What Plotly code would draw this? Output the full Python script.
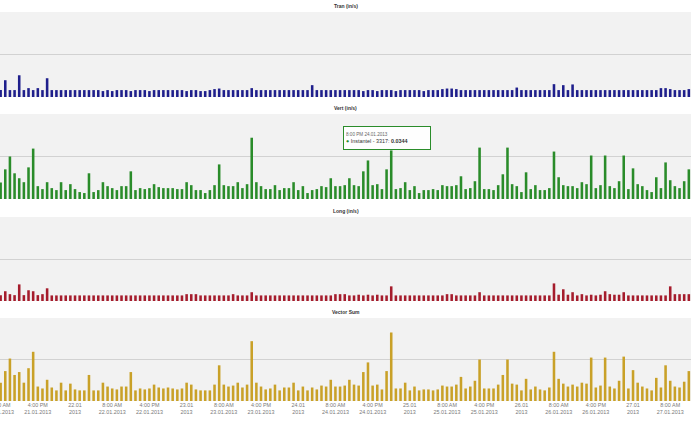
import plotly.graph_objects as go
import pandas as pd

start = "2013-01-21 08:00"

tran = [
    0.0049, 0.0119, 0.0049, 0.0049, 0.0154, 0.0049, 0.0063, 0.0049, 0.0063, 0.0049,
    0.0133, 0.0049, 0.0049, 0.0049, 0.0049, 0.0049, 0.0049, 0.0049, 0.0049, 0.0049,
    0.0049, 0.0049, 0.0042, 0.0049, 0.0042, 0.0049, 0.0049, 0.0049, 0.0042, 0.0049,
    0.0049, 0.0049, 0.0042, 0.0049, 0.0049, 0.0049, 0.0049, 0.0049, 0.0049, 0.0049,
    0.0042, 0.0049, 0.0049, 0.0042, 0.0042, 0.0049, 0.0056, 0.0060, 0.0049, 0.0049,
    0.0049, 0.0049, 0.0049, 0.0049, 0.0063, 0.0049, 0.0049, 0.0049, 0.0049, 0.0049,
    0.0049, 0.0049, 0.0049, 0.0049, 0.0049, 0.0049, 0.0049, 0.0084, 0.0049, 0.0049,
    0.0049, 0.0049, 0.0049, 0.0049, 0.0049, 0.0049, 0.0049, 0.0049, 0.0042, 0.0049,
    0.0049, 0.0042, 0.0049, 0.0049, 0.0049, 0.0042, 0.0049, 0.0049, 0.0049, 0.0049,
    0.0049, 0.0042, 0.0049, 0.0049, 0.0049, 0.0056, 0.0060, 0.0060, 0.0056, 0.0049,
    0.0049, 0.0049, 0.0049, 0.0049, 0.0049, 0.0049, 0.0049, 0.0049, 0.0049, 0.0049,
    0.0049, 0.0067, 0.0049, 0.0049, 0.0049, 0.0049, 0.0049, 0.0049, 0.0049, 0.0091,
    0.0049, 0.0084, 0.0049, 0.0089, 0.0049, 0.0049, 0.0049, 0.0049, 0.0049, 0.0049,
    0.0049, 0.0049, 0.0049, 0.0049, 0.0049, 0.0049, 0.0049, 0.0049, 0.0049, 0.0049,
    0.0049, 0.0049, 0.0063, 0.0063, 0.0056, 0.0049, 0.0049, 0.0049, 0.0056,
]

vert = [
    0.0117, 0.0210, 0.0301, 0.0182, 0.0147, 0.0119, 0.0224, 0.0357, 0.0091, 0.0070,
    0.0119, 0.0077, 0.0063, 0.0119, 0.0063, 0.0105, 0.0070, 0.0049, 0.0042, 0.0182,
    0.0049, 0.0063, 0.0119, 0.0091, 0.0077, 0.0063, 0.0091, 0.0091, 0.0196, 0.0063,
    0.0077, 0.0070, 0.0077, 0.0105, 0.0084, 0.0077, 0.0077, 0.0077, 0.0070, 0.0070,
    0.0119, 0.0098, 0.0063, 0.0063, 0.0042, 0.0063, 0.0098, 0.0245, 0.0098, 0.0091,
    0.0091, 0.0119, 0.0077, 0.0105, 0.0434, 0.0119, 0.0091, 0.0070, 0.0070, 0.0098,
    0.0063, 0.0077, 0.0077, 0.0119, 0.0063, 0.0091, 0.0042, 0.0063, 0.0070, 0.0091,
    0.0084, 0.0147, 0.0091, 0.0091, 0.0098, 0.0147, 0.0098, 0.0091, 0.0196, 0.0273,
    0.0098, 0.0105, 0.0070, 0.0210, 0.0344, 0.0070, 0.0077, 0.0119, 0.0063, 0.0091,
    0.0042, 0.0063, 0.0063, 0.0070, 0.0063, 0.0098, 0.0091, 0.0091, 0.0098, 0.0161,
    0.0070, 0.0077, 0.0126, 0.0364, 0.0070, 0.0070, 0.0063, 0.0098, 0.0175, 0.0364,
    0.0105, 0.0091, 0.0049, 0.0189, 0.0070, 0.0098, 0.0063, 0.0063, 0.0077, 0.0336,
    0.0154, 0.0098, 0.0091, 0.0091, 0.0077, 0.0119, 0.0105, 0.0308, 0.0077, 0.0098,
    0.0308, 0.0091, 0.0077, 0.0126, 0.0308, 0.0070, 0.0217, 0.0105, 0.0091, 0.0063,
    0.0049, 0.0154, 0.0077, 0.0259, 0.0133, 0.0091, 0.0077, 0.0126, 0.0210,
]

long_ = [
    0.0042, 0.0070, 0.0049, 0.0042, 0.0119, 0.0042, 0.0077, 0.0070, 0.0042, 0.0049,
    0.0091, 0.0040, 0.0040, 0.0040, 0.0040, 0.0040, 0.0040, 0.0040, 0.0040, 0.0040,
    0.0040, 0.0040, 0.0040, 0.0040, 0.0040, 0.0040, 0.0040, 0.0040, 0.0040, 0.0040,
    0.0040, 0.0040, 0.0040, 0.0040, 0.0040, 0.0040, 0.0040, 0.0040, 0.0040, 0.0040,
    0.0049, 0.0049, 0.0049, 0.0040, 0.0040, 0.0040, 0.0040, 0.0040, 0.0040, 0.0040,
    0.0049, 0.0040, 0.0040, 0.0040, 0.0063, 0.0040, 0.0040, 0.0040, 0.0040, 0.0040,
    0.0040, 0.0040, 0.0040, 0.0040, 0.0040, 0.0040, 0.0040, 0.0040, 0.0040, 0.0040,
    0.0040, 0.0040, 0.0049, 0.0049, 0.0049, 0.0040, 0.0040, 0.0045, 0.0040, 0.0045,
    0.0040, 0.0045, 0.0040, 0.0040, 0.0105, 0.0040, 0.0040, 0.0040, 0.0040, 0.0040,
    0.0040, 0.0040, 0.0040, 0.0040, 0.0040, 0.0040, 0.0049, 0.0049, 0.0040, 0.0040,
    0.0040, 0.0040, 0.0040, 0.0063, 0.0040, 0.0040, 0.0040, 0.0040, 0.0040, 0.0040,
    0.0040, 0.0040, 0.0040, 0.0040, 0.0040, 0.0040, 0.0040, 0.0040, 0.0040, 0.0126,
    0.0045, 0.0084, 0.0045, 0.0063, 0.0040, 0.0049, 0.0040, 0.0045, 0.0040, 0.0045,
    0.0070, 0.0049, 0.0045, 0.0045, 0.0063, 0.0040, 0.0040, 0.0040, 0.0040, 0.0040,
    0.0040, 0.0040, 0.0040, 0.0040, 0.0105, 0.0049, 0.0049, 0.0049, 0.0049,
]

vsum = [
    0.0133, 0.0217, 0.0308, 0.0189, 0.0210, 0.0133, 0.0238, 0.0357, 0.0105, 0.0091,
    0.0154, 0.0098, 0.0077, 0.0133, 0.0077, 0.0126, 0.0084, 0.0077, 0.0077, 0.0189,
    0.0077, 0.0077, 0.0133, 0.0105, 0.0091, 0.0084, 0.0105, 0.0105, 0.0210, 0.0077,
    0.0091, 0.0084, 0.0091, 0.0119, 0.0098, 0.0091, 0.0098, 0.0091, 0.0084, 0.0091,
    0.0133, 0.0119, 0.0084, 0.0077, 0.0077, 0.0077, 0.0119, 0.0259, 0.0119, 0.0105,
    0.0112, 0.0133, 0.0098, 0.0119, 0.0434, 0.0133, 0.0105, 0.0084, 0.0091, 0.0119,
    0.0077, 0.0098, 0.0098, 0.0133, 0.0077, 0.0105, 0.0077, 0.0098, 0.0084, 0.0112,
    0.0105, 0.0154, 0.0105, 0.0105, 0.0112, 0.0154, 0.0119, 0.0112, 0.0210, 0.0280,
    0.0112, 0.0119, 0.0084, 0.0217, 0.0497, 0.0091, 0.0091, 0.0133, 0.0077, 0.0105,
    0.0077, 0.0084, 0.0084, 0.0077, 0.0084, 0.0112, 0.0105, 0.0105, 0.0119, 0.0175,
    0.0091, 0.0105, 0.0147, 0.0301, 0.0091, 0.0091, 0.0091, 0.0119, 0.0189, 0.0301,
    0.0126, 0.0119, 0.0077, 0.0161, 0.0084, 0.0105, 0.0084, 0.0077, 0.0098, 0.0357,
    0.0161, 0.0126, 0.0105, 0.0119, 0.0105, 0.0133, 0.0126, 0.0315, 0.0098, 0.0112,
    0.0315, 0.0105, 0.0091, 0.0147, 0.0322, 0.0091, 0.0224, 0.0133, 0.0105, 0.0091,
    0.0077, 0.0168, 0.0098, 0.0259, 0.0147, 0.0105, 0.0098, 0.0140, 0.0217,
]

tick_vals = [
    "2013-01-21 08:00", "2013-01-21 16:00", "2013-01-22 00:00",
    "2013-01-22 08:00", "2013-01-22 16:00", "2013-01-23 00:00",
    "2013-01-23 08:00", "2013-01-23 16:00", "2013-01-24 00:00",
    "2013-01-24 08:00", "2013-01-24 16:00", "2013-01-25 00:00",
    "2013-01-25 08:00", "2013-01-25 16:00", "2013-01-26 00:00",
    "2013-01-26 08:00", "2013-01-26 16:00", "2013-01-27 00:00",
    "2013-01-27 08:00",
]
tick_text = [
    "8:00 AM<br>21.01.2013", "4:00 PM<br>21.01.2013", "22.01<br>2013",
    "8:00 AM<br>22.01.2013", "4:00 PM<br>22.01.2013", "23.01<br>2013",
    "8:00 AM<br>23.01.2013", "4:00 PM<br>23.01.2013", "24.01<br>2013",
    "8:00 AM<br>24.01.2013", "4:00 PM<br>24.01.2013", "25.01<br>2013",
    "8:00 AM<br>25.01.2013", "4:00 PM<br>25.01.2013", "26.01<br>2013",
    "8:00 AM<br>26.01.2013", "4:00 PM<br>26.01.2013", "27.01<br>2013",
    "8:00 AM<br>27.01.2013",
]

titles = ["Tran (in/s)", "Vert (in/s)", "Long (in/s)", "Vector Sum"]
series = [tran, vert, long_, vsum]
colors = ["#1f1f8c", "#2a8c2a", "#a51c2c", "#c9a128"]
domains = [[0.7712, 0.9717], [0.5307, 0.7311], [0.2901, 0.4882], [0.0542, 0.2500]]

tooltip_time = "2013-01-24 20:00"
tooltip_value = 0.0344

x_range = ["2013-01-21 07:52", "2013-01-27 12:28"]
font_family = "Liberation Sans, Arial, sans-serif"

fig = go.Figure()
layout = dict(
    template="none",
    width=691, height=424,
    margin=dict(l=0, r=0, t=0, b=0),
    paper_bgcolor="white",
    plot_bgcolor="#f2f2f2",
    bargap=0.45,
    showlegend=False,
    font=dict(family=font_family, color="#333333"),
)

annotations = []
for i, (vals, col, dom, title) in enumerate(zip(series, colors, domains, titles)):
    n = "" if i == 0 else str(i + 1)
    x = pd.date_range(start, periods=len(vals), freq="h")
    fig.add_trace(go.Bar(
        x=x, y=vals, marker=dict(color=col, line=dict(width=0)),
        xaxis="x" + n, yaxis="y" + n, name=title,
    ))
    last = i == 3
    layout["xaxis" + n] = dict(
        domain=[0, 1], anchor="y" + n, type="date", range=x_range,
        showgrid=False, zeroline=False, showline=False, ticks="",
        automargin=False,
        showticklabels=last, ticklabeloverflow="allow",
        tickmode="array", tickvals=tick_vals, ticktext=tick_text,
        tickfont=dict(size=5.4, color="#7a7a7a", family=font_family),
    )
    layout["yaxis" + n] = dict(
        domain=dom, anchor="x" + n, range=[0, 0.0602],
        tickmode="array", tickvals=[0.03, 0.06],
        showticklabels=False, showgrid=True, gridcolor="#d2d2d2",
        gridwidth=1, zeroline=False, showline=False, ticks="",
        automargin=False,
    )
    annotations.append(dict(
        text="<b>" + title + "</b>", x=0.5, xref="paper",
        y=dom[1], yref="paper", yanchor="middle", yshift=6,
        showarrow=False, font=dict(size=5, color="#333333", family=font_family),
    ))

annotations.append(dict(
    x=tooltip_time, xref="x2", y=tooltip_value, yref="y2",
    xanchor="center", yanchor="bottom", xshift=-4, yshift=0,
    showarrow=False, align="left",
    width=82, height=18, borderpad=2,
    bgcolor="rgba(255,255,255,0.92)", bordercolor="#2a8c2a", borderwidth=1,
    text=("<span style='font-size:4.6px;color:#666'>8:00 PM 24.01.2013</span><br>"
          "<span style='color:#2a8c2a'>●</span> Instantel - 3317: <b>0.0344</b>"),
    font=dict(size=5.4, color="#333333", family=font_family),
))
layout["annotations"] = annotations
fig.update_layout(**layout)

fig.write_html(
    "out.html",
    config={"displayModeBar": False},
    post_script="document.body.style.margin='0';document.body.style.padding='0';",
)
